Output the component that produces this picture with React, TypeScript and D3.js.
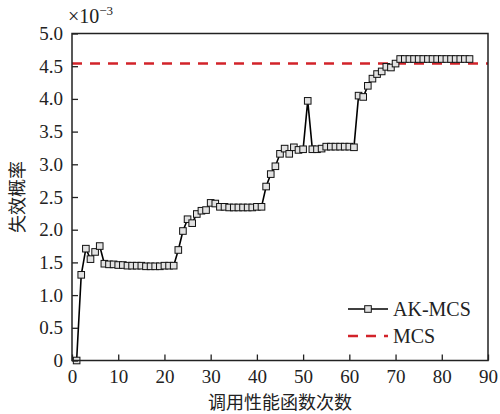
import * as d3 from "d3"
import { useRef, useEffect } from "react"

// number of calls to the performance function
const calls = d3.range(1, 87)

// AK-MCS failure probability estimate (x1e-3)
const akmcs = [
  0, 1.31, 1.71, 1.55, 1.66, 1.75, 1.48, 1.47, 1.47, 1.46,
  1.46, 1.45, 1.45, 1.45, 1.45, 1.44, 1.44, 1.44, 1.44, 1.45,
  1.45, 1.45, 1.69, 1.98, 2.16, 2.10, 2.24, 2.29, 2.30, 2.41,
  2.40, 2.35, 2.35, 2.34, 2.34, 2.34, 2.34, 2.34, 2.34, 2.35,
  2.35, 2.66, 2.85, 2.97, 3.16, 3.24, 3.16, 3.26, 3.22, 3.23,
  3.97, 3.23, 3.23, 3.24, 3.27, 3.27, 3.27, 3.27, 3.27, 3.27,
  3.26, 4.05, 4.03, 4.20, 4.31, 4.38, 4.42, 4.49, 4.48, 4.54,
  4.61, 4.61, 4.61, 4.61, 4.61, 4.61, 4.61, 4.61, 4.61, 4.61,
  4.61, 4.61, 4.61, 4.61, 4.61, 4.61,
]

const mcs = 4.54

const xTicks = [0, 10, 20, 30, 40, 50, 60, 70, 80, 90]
const yTicks = [0, 0.5, 1, 1.5, 2, 2.5, 3, 3.5, 4, 4.5, 5]

const legendItems = ["AK-MCS", "MCS"]

const font = "'Liberation Serif', 'DejaVu Serif', serif"
const cjk = "'Noto Sans CJK SC', sans-serif"

export default function App() {
  const width = 500
  const height = 414
  const margin = { top: 33.5, right: 12, bottom: 53.5, left: 72 }

  const x = d3.scaleLinear().domain([0, 90]).range([margin.left, width - margin.right])
  const y = d3.scaleLinear().domain([0, 5]).range([height - margin.bottom, margin.top])

  const xAxisRef = useRef<SVGGElement>(null)
  const yAxisRef = useRef<SVGGElement>(null)

  useEffect(() => {
    const xa = d3.axisBottom(x).tickValues(xTicks).tickSizeInner(-6).tickSizeOuter(0).tickPadding(9)
    const ya = d3.axisLeft(y).tickValues(yTicks)
      .tickFormat(d => (+d === 0 ? "0" : d3.format(".1f")(+d)))
      .tickSizeInner(-6).tickSizeOuter(0).tickPadding(9)
    const gx = d3.select(xAxisRef.current!).call(xa)
    const gy = d3.select(yAxisRef.current!).call(ya)
    for (const g of [gx, gy]) {
      g.attr("font-family", font).attr("font-size", 19)
      g.select(".domain").remove()
      g.selectAll("line").attr("stroke", "#222").attr("stroke-width", 1.3)
      g.selectAll("text").attr("fill", "#222")
    }
  }, [])

  const line = d3.line<number>()
    .x((_, i) => x(calls[i]))
    .y(d => y(d))

  const pw = x(90) - x(0)
  const ph = y(0) - y(5)

  return (
    <svg width={width} height={height} style={{ position: "absolute", left: 0, top: 0, background: "#fff" }}>
      <line x1={x(0)} x2={x(90)} y1={y(mcs)} y2={y(mcs)}
        stroke="#d2232a" strokeWidth={2.5} strokeDasharray="10,8" />
      <path d={line(akmcs)!} fill="none" stroke="#000" strokeWidth={1.6} />
      {akmcs.map((v, i) => (
        <rect key={i} x={x(calls[i]) - 3.3} y={y(v) - 3.3} width={6.6} height={6.6}
          fill="#e2e2e2" stroke="#111" strokeWidth={1} />
      ))}
      <g ref={xAxisRef} transform={`translate(0,${y(0)})`} />
      <g ref={yAxisRef} transform={`translate(${x(0)},0)`} />
      <rect x={x(0)} y={y(5)} width={pw} height={ph} fill="none" stroke="#222" strokeWidth={1.5} />

      <text x={x(0) - 4} y={23} fontFamily={font} fontSize={20} fill="#222">
        ×10<tspan dy={-8} fontSize={13}>−3</tspan>
      </text>

      <text transform={`translate(24,${(y(0) + y(5)) / 2}) rotate(-90)`} textAnchor="middle"
        fontFamily={cjk} fontSize={18} fill="#222">失效概率</text>
      <text x={(x(0) + x(90)) / 2} y={409} textAnchor="middle"
        fontFamily={cjk} fontSize={18} fill="#222">调用性能函数次数</text>

      {legendItems.map((name, i) => {
        const ly = 309 + i * 27
        return (
          <g key={name}>
            {i === 0 ? (
              <>
                <line x1={348} x2={388} y1={ly} y2={ly} stroke="#000" strokeWidth={1.6} />
                <rect x={364.7} y={ly - 3.3} width={6.6} height={6.6} fill="#e2e2e2" stroke="#111" strokeWidth={1} />
              </>
            ) : (
              <line x1={348} x2={388} y1={ly} y2={ly} stroke="#d2232a" strokeWidth={2.5} strokeDasharray="10,8" />
            )}
            <text x={393} y={ly + 7} fontFamily={font} fontSize={20} fill="#222">{name}</text>
          </g>
        )
      })}
    </svg>
  )
}
